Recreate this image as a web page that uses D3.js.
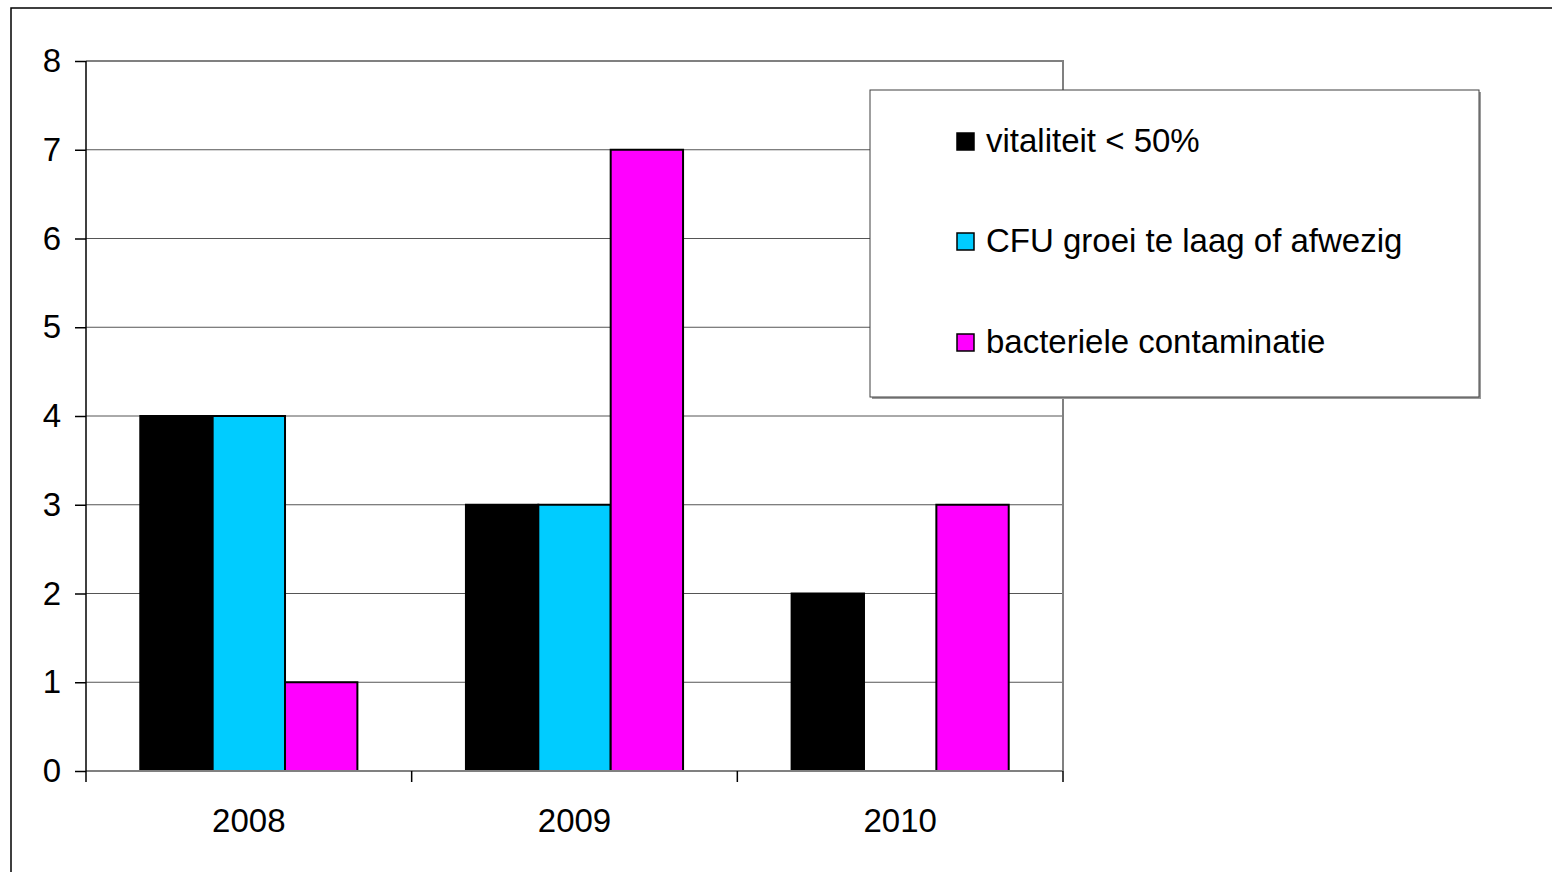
<!DOCTYPE html>
<html>
<head>
<meta charset="utf-8">
<script src="https://cdn.jsdelivr.net/npm/d3@7"></script>
<style>
  html, body { margin: 0; padding: 0; background: #fff; }
  svg { display: block; }
  text { font-family: "Liberation Sans", Arial, sans-serif; fill: #000; }
</style>
</head>
<body>
<svg id="chart" width="1552" height="872"></svg>
<script>
// Years on the category axis
const years = ["2008", "2009", "2010"];
// Series names shown in the legend
const seriesNames = ["vitaliteit < 50%", "CFU groei te laag of afwezig", "bacteriele contaminatie"];
const seriesColors = ["#000000", "#00CCFF", "#FF00FF"];
// Counts per year for each series
const vitaliteit = [4, 3, 2];
const cfuGroei = [4, 3, 0];
const bacterieel = [1, 7, 3];
// Value axis ticks
const yTicks = [0, 1, 2, 3, 4, 5, 6, 7, 8];

const seriesValues = [vitaliteit, cfuGroei, bacterieel];
const FONT = 33;

const svg = d3.select("#chart");
const W = 1552, H = 872;

// outer chart frame
svg.append("rect")
  .attr("x", 11).attr("y", 8)
  .attr("width", W + 20).attr("height", H + 20)
  .attr("fill", "none").attr("stroke", "#000").attr("stroke-width", 1.5);

const plot = { left: 86, top: 61, right: 1063, bottom: 771 };

const y = d3.scaleLinear().domain([0, 8]).range([plot.bottom, plot.top]);
const x = d3.scaleBand().domain(years).range([plot.left, plot.right]).paddingInner(0).paddingOuter(0);
// three bars with a gap of 1.5 bar widths between groups
const barW = x.bandwidth() / 4.5;
const xs = d3.scaleBand().domain(d3.range(seriesNames.length))
  .range([barW * 0.75, barW * 3.75]);

// horizontal gridlines
svg.append("g")
  .selectAll("line")
  .data(yTicks.filter(t => t > 0 && t < 8))
  .join("line")
  .attr("x1", plot.left).attr("x2", plot.right)
  .attr("y1", d => y(d)).attr("y2", d => y(d))
  .attr("stroke", "#555").attr("stroke-width", 1);

// plot area top and right edges
svg.append("path")
  .attr("d", `M${plot.left},${y(8)}H${plot.right}V${plot.bottom}`)
  .attr("fill", "none").attr("stroke", "#808080").attr("stroke-width", 2);

// bars
const groups = svg.append("g").selectAll("g")
  .data(years)
  .join("g")
  .attr("transform", d => `translate(${x(d)},0)`);

groups.selectAll("rect")
  .data((d, i) => seriesValues.map((vals, s) => ({ s, v: vals[i] })).filter(e => e.v > 0))
  .join("rect")
  .attr("x", d => xs(d.s))
  .attr("width", xs.bandwidth())
  .attr("y", d => y(d.v))
  .attr("height", d => y(0) - y(d.v))
  .attr("fill", d => seriesColors[d.s])
  .attr("stroke", "#000").attr("stroke-width", 2);

// bottom axis line
svg.append("line")
  .attr("x1", plot.left).attr("x2", plot.right)
  .attr("y1", y(0)).attr("y2", y(0))
  .attr("stroke", "#808080").attr("stroke-width", 2);

// value axis
const yAxis = d3.axisLeft(y).tickValues(yTicks).tickSize(11).tickPadding(14).tickFormat(d3.format("d"));
const gy = svg.append("g").attr("transform", `translate(${plot.left},0)`).call(yAxis);
gy.select(".domain").attr("stroke", "#000").attr("stroke-width", 1.5);
gy.selectAll(".tick line").attr("stroke", "#000").attr("stroke-width", 1.5);
gy.selectAll(".tick text").attr("font-size", FONT).attr("font-family", "Liberation Sans, Arial, sans-serif").attr("fill", "#000");
gy.select(".domain").attr("d", `M0,${plot.top}V${plot.bottom}`);

// category axis ticks at group boundaries
const bounds = years.map(d => x(d)).concat([plot.right]);
svg.append("g").selectAll("line")
  .data(bounds)
  .join("line")
  .attr("x1", d => d).attr("x2", d => d)
  .attr("y1", plot.bottom).attr("y2", plot.bottom + 11)
  .attr("stroke", "#000").attr("stroke-width", 1.5);

svg.append("g").selectAll("text")
  .data(years)
  .join("text")
  .attr("x", d => x(d) + x.bandwidth() / 2)
  .attr("y", 832)
  .attr("text-anchor", "middle")
  .attr("font-size", FONT)
  .text(d => d);

// legend
const legend = { x: 870, y: 90, w: 609, h: 307 };
svg.append("rect")
  .attr("x", legend.x + 2).attr("y", legend.y + 2)
  .attr("width", legend.w).attr("height", legend.h)
  .attr("fill", "#9a9a9a");
svg.append("rect")
  .attr("x", legend.x).attr("y", legend.y)
  .attr("width", legend.w).attr("height", legend.h)
  .attr("fill", "#fff").attr("stroke", "#404040").attr("stroke-width", 1);

const rowY = [141, 241, 342];
const items = svg.append("g").selectAll("g")
  .data(seriesNames)
  .join("g")
  .attr("transform", (d, i) => `translate(${legend.x + 87},${rowY[i]})`);
items.append("rect")
  .attr("x", 0).attr("y", -8).attr("width", 17).attr("height", 17)
  .attr("fill", (d, i) => seriesColors[i])
  .attr("stroke", "#000").attr("stroke-width", 1.5);
items.append("text")
  .attr("x", 29).attr("y", 11)
  .attr("font-size", FONT)
  .text(d => d);
</script>
</body>
</html>
